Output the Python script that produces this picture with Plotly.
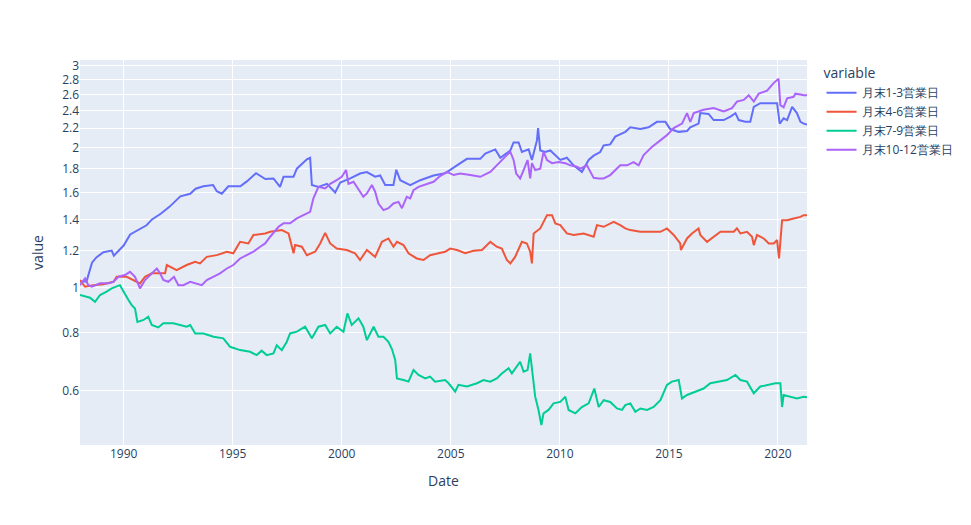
import pandas as pd
import plotly.graph_objects as go

series_names = ["月末1-3営業日", "月末4-6営業日", "月末7-9営業日", "月末10-12営業日"]

blue_t = [1988.0, 1988.3, 1988.55, 1988.75, 1989.07, 1989.45, 1989.55, 1990.0, 1990.3, 1990.7,
          1991.05, 1991.3, 1991.7, 1992.1, 1992.6, 1993.05, 1993.3, 1993.65, 1994.1, 1994.27,
          1994.5, 1994.8, 1995.35, 1995.65, 1996.07, 1996.5, 1996.87, 1997.17, 1997.33, 1997.79,
          1997.94, 1998.4, 1998.55, 1998.63, 1998.93, 1999.32, 1999.7, 1999.93, 2000.39, 2000.84,
          2001.15, 2001.53, 2001.76, 2001.99, 2002.37, 2002.5, 2002.68, 2003.14, 2003.6, 2004.21,
          2004.74, 2005.28, 2005.74, 2006.35, 2006.58, 2007.04, 2007.27, 2007.73, 2007.88, 2008.11,
          2008.26, 2008.57, 2008.72, 2008.95, 2009.0, 2009.1, 2009.33, 2009.56, 2009.79, 2010.02,
          2010.32, 2010.63, 2011.01, 2011.32, 2011.55, 2011.85, 2012.01, 2012.31, 2012.54, 2013.0,
          2013.23, 2013.69, 2014.07, 2014.45, 2014.84, 2015.06, 2015.45, 2015.83, 2015.98, 2016.36,
          2016.44, 2016.82, 2017.05, 2017.51, 2017.82, 2018.05, 2018.2, 2018.5, 2018.73, 2018.89,
          2019.19, 2019.58, 2019.96, 2020.08, 2020.26, 2020.42, 2020.65, 2020.87, 2021.03, 2021.18,
          2021.33]
blue_v = [1.03, 1.03, 1.13, 1.16, 1.19, 1.20, 1.17, 1.23, 1.30, 1.33,
          1.36, 1.40, 1.44, 1.49, 1.57, 1.59, 1.63, 1.65, 1.66, 1.61,
          1.59, 1.65, 1.65, 1.69, 1.76, 1.71, 1.715, 1.645, 1.73, 1.73,
          1.80, 1.885, 1.90, 1.66, 1.645, 1.67, 1.60, 1.68, 1.715, 1.757,
          1.77, 1.73, 1.74, 1.66, 1.66, 1.79, 1.70, 1.66, 1.70, 1.74,
          1.76, 1.83, 1.89, 1.89, 1.94, 1.98, 1.90, 1.97, 2.05, 2.05,
          1.955, 1.98, 1.88, 2.07, 2.20, 1.97, 1.955, 1.97, 1.92, 1.88,
          1.90, 1.83, 1.77, 1.88, 1.92, 1.955, 2.02, 2.03, 2.11, 2.16,
          2.21, 2.19, 2.21, 2.27, 2.27, 2.19, 2.16, 2.17, 2.21, 2.25,
          2.37, 2.36, 2.29, 2.29, 2.33, 2.37, 2.29, 2.27, 2.27, 2.445,
          2.49, 2.49, 2.49, 2.25, 2.31, 2.29, 2.445, 2.37, 2.27, 2.25,
          2.24]

red_t = [1988.0, 1988.23, 1988.61, 1989.07, 1989.53, 1989.68, 1990.14, 1990.45, 1990.75, 1990.98,
         1991.29, 1991.67, 1991.9, 1991.98, 1992.43, 1992.89, 1993.28, 1993.5, 1993.81, 1994.27,
         1994.73, 1995.03, 1995.34, 1995.72, 1995.95, 1996.49, 1996.72, 1997.25, 1997.56, 1997.79,
         1997.86, 1998.17, 1998.4, 1998.78, 1999.01, 1999.24, 1999.47, 1999.77, 2000.23, 2000.61,
         2000.84, 2001.15, 2001.53, 2001.84, 2002.14, 2002.37, 2002.53, 2002.83, 2003.06, 2003.44,
         2003.75, 2004.05, 2004.36, 2004.74, 2004.97, 2005.28, 2005.66, 2006.04, 2006.43, 2006.81,
         2007.11, 2007.34, 2007.57, 2007.73, 2007.95, 2008.26, 2008.49, 2008.64, 2008.72, 2008.8,
         2009.1, 2009.41, 2009.64, 2009.79, 2010.02, 2010.32, 2010.63, 2011.09, 2011.55, 2011.7,
         2012.01, 2012.47, 2012.77, 2013.0, 2013.23, 2013.69, 2014.15, 2014.61, 2014.91, 2015.22,
         2015.52, 2015.55, 2015.83, 2016.06, 2016.36, 2016.44, 2016.75, 2017.05, 2017.36, 2017.97,
         2018.12, 2018.28, 2018.58, 2018.81, 2018.89, 2019.04, 2019.35, 2019.58, 2019.81, 2019.96,
         2020.05, 2020.19, 2020.42, 2020.72, 2021.03, 2021.18, 2021.33]
red_v = [1.037, 1.003, 1.011, 1.016, 1.028, 1.054, 1.054, 1.037, 1.02, 1.054,
         1.072, 1.072, 1.072, 1.117, 1.089, 1.117, 1.135, 1.126, 1.163, 1.173,
         1.193, 1.184, 1.253, 1.243, 1.296, 1.306, 1.317, 1.328, 1.306, 1.184,
         1.233, 1.223, 1.173, 1.193, 1.243, 1.31, 1.243, 1.212, 1.203, 1.184,
         1.145, 1.203, 1.163, 1.253, 1.274, 1.223, 1.253, 1.233, 1.184, 1.154,
         1.145, 1.173, 1.184, 1.193, 1.212, 1.203, 1.184, 1.199, 1.203, 1.253,
         1.223, 1.212, 1.145, 1.126, 1.163, 1.253, 1.243, 1.193, 1.126, 1.306,
         1.339, 1.43, 1.43, 1.373, 1.361, 1.306, 1.296, 1.306, 1.285, 1.361,
         1.35, 1.384, 1.361, 1.339, 1.328, 1.317, 1.317, 1.317, 1.339, 1.296,
         1.243, 1.203, 1.274, 1.306, 1.339, 1.296, 1.253, 1.285, 1.317, 1.317,
         1.339, 1.306, 1.317, 1.285, 1.233, 1.296, 1.274, 1.243, 1.243, 1.264,
         1.154, 1.395, 1.395, 1.407, 1.418, 1.43, 1.43]

green_t = [1988.0, 1988.31, 1988.46, 1988.69, 1988.92, 1989.22, 1989.45, 1989.83, 1989.99, 1990.22,
           1990.37, 1990.52, 1990.63, 1990.91, 1991.13, 1991.29, 1991.59, 1991.82, 1992.28, 1992.59,
           1992.89, 1993.05, 1993.28, 1993.66, 1994.12, 1994.57, 1994.88, 1995.34, 1995.8, 1996.1,
           1996.33, 1996.56, 1996.87, 1997.02, 1997.25, 1997.48, 1997.63, 1997.94, 1998.32, 1998.63,
           1998.93, 1999.24, 1999.47, 1999.77, 2000.08, 2000.26, 2000.46, 2000.77, 2000.99, 2001.15,
           2001.46, 2001.68, 2001.91, 2002.14, 2002.3, 2002.45, 2002.53, 2002.83, 2003.06, 2003.29,
           2003.52, 2003.83, 2004.05, 2004.28, 2004.74, 2004.9, 2005.2, 2005.35, 2005.74, 2006.2,
           2006.5, 2006.81, 2007.11, 2007.34, 2007.65, 2007.8, 2008.18, 2008.34, 2008.52, 2008.64,
           2008.72, 2008.87, 2009.02, 2009.15, 2009.25, 2009.48, 2009.71, 2010.02, 2010.25, 2010.4,
           2010.71, 2011.01, 2011.32, 2011.58, 2011.78, 2012.01, 2012.31, 2012.62, 2012.85, 2013.0,
           2013.23, 2013.46, 2013.69, 2014.0, 2014.3, 2014.61, 2014.91, 2015.14, 2015.45, 2015.6,
           2015.83, 2016.21, 2016.59, 2016.9, 2017.36, 2017.66, 2018.05, 2018.28, 2018.58, 2018.89,
           2019.19, 2019.5, 2019.88, 2020.11, 2020.19, 2020.26, 2020.57, 2020.87, 2021.18, 2021.33]
green_v = [0.963, 0.955, 0.95, 0.931, 0.963, 0.979, 0.995, 1.011, 0.979, 0.939,
           0.916, 0.901, 0.843, 0.851, 0.865, 0.83, 0.82, 0.837, 0.837, 0.83,
           0.823, 0.83, 0.796, 0.796, 0.783, 0.777, 0.745, 0.733, 0.727, 0.715,
           0.731, 0.715, 0.721, 0.751, 0.733, 0.764, 0.796, 0.803, 0.823, 0.777,
           0.823, 0.83, 0.796, 0.823, 0.803, 0.879, 0.83, 0.858, 0.823, 0.77,
           0.823, 0.783, 0.783, 0.764, 0.737, 0.698, 0.637, 0.632, 0.627, 0.664,
           0.648, 0.637, 0.643, 0.627, 0.632, 0.622, 0.597, 0.617, 0.612, 0.622,
           0.632, 0.627, 0.637, 0.653, 0.67, 0.653, 0.692, 0.659, 0.664, 0.721,
           0.664, 0.582, 0.545, 0.506, 0.536, 0.545, 0.563, 0.567, 0.582, 0.545,
           0.536, 0.553, 0.563, 0.606, 0.553, 0.572, 0.567, 0.549, 0.545, 0.558,
           0.563, 0.54, 0.549, 0.545, 0.553, 0.572, 0.617, 0.627, 0.632, 0.577,
           0.587, 0.597, 0.606, 0.622, 0.627, 0.632, 0.648, 0.632, 0.627, 0.592,
           0.612, 0.617, 0.622, 0.622, 0.553, 0.587, 0.582, 0.577, 0.582, 0.58]

purple_t = [1988.0, 1988.23, 1988.38, 1988.54, 1988.92, 1989.3, 1989.53, 1989.76, 1990.06, 1990.29,
            1990.52, 1990.75, 1990.98, 1991.29, 1991.52, 1991.67, 1991.82, 1992.05, 1992.31, 1992.51,
            1992.74, 1993.05, 1993.35, 1993.58, 1993.81, 1994.12, 1994.42, 1994.73, 1995.03, 1995.34,
            1995.65, 1995.95, 1996.26, 1996.49, 1996.72, 1997.1, 1997.33, 1997.63, 1997.94, 1998.24,
            1998.55, 1998.7, 1998.93, 1999.24, 1999.47, 1999.77, 2000.0, 2000.2, 2000.31, 2000.54,
            2000.84, 2000.99, 2001.15, 2001.38, 2001.53, 2001.68, 2001.91, 2002.14, 2002.37, 2002.6,
            2002.76, 2002.98, 2003.14, 2003.29, 2003.52, 2003.9, 2004.21, 2004.51, 2004.82, 2005.13,
            2005.43, 2005.89, 2006.35, 2006.81, 2007.19, 2007.57, 2007.73, 2007.88, 2008.0, 2008.18,
            2008.34, 2008.52, 2008.64, 2008.72, 2008.87, 2009.1, 2009.25, 2009.41, 2009.64, 2009.94,
            2010.25, 2010.48, 2010.78, 2010.94, 2011.24, 2011.55, 2011.78, 2012.01, 2012.31, 2012.54,
            2012.77, 2013.08, 2013.38, 2013.61, 2013.84, 2014.22, 2014.61, 2014.91, 2015.22, 2015.6,
            2015.83, 2015.98, 2016.14, 2016.59, 2017.05, 2017.51, 2017.89, 2018.12, 2018.43, 2018.66,
            2018.89, 2019.12, 2019.5, 2019.8, 2020.03, 2020.11, 2020.26, 2020.42, 2020.72, 2020.8,
            2021.03, 2021.18, 2021.33]
purple_v = [1.011, 1.045, 1.011, 1.003, 1.02, 1.02, 1.028, 1.054, 1.063, 1.08,
            1.054, 0.995, 1.037, 1.072, 1.098, 1.072, 1.037, 1.028, 1.054, 1.011,
            1.011, 1.028, 1.02, 1.011, 1.037, 1.054, 1.072, 1.098, 1.117, 1.154,
            1.173, 1.193, 1.223, 1.243, 1.285, 1.35, 1.373, 1.373, 1.407, 1.43,
            1.454, 1.554, 1.645, 1.632, 1.67, 1.701, 1.729, 1.788, 1.67, 1.687,
            1.606, 1.566, 1.592, 1.66, 1.606, 1.515, 1.466, 1.48, 1.515, 1.527,
            1.48, 1.566, 1.554, 1.619, 1.645, 1.67, 1.687, 1.735, 1.772, 1.744,
            1.757, 1.744, 1.729, 1.772, 1.85, 1.925, 1.956, 1.879, 1.757, 1.715,
            1.788, 1.879, 1.715, 1.85, 1.788, 1.80, 1.956, 1.879, 1.85, 1.86,
            1.85, 1.83, 1.817, 1.80, 1.83, 1.72, 1.715, 1.715, 1.744, 1.788,
            1.83, 1.83, 1.86, 1.83, 1.925, 2.005, 2.07, 2.125, 2.20, 2.25,
            2.37, 2.27, 2.37, 2.41, 2.43, 2.39, 2.43, 2.51, 2.53, 2.59,
            2.51, 2.61, 2.65, 2.75, 2.81, 2.466, 2.44, 2.55, 2.57, 2.61,
            2.6, 2.59, 2.59]

colors = ["#636efa", "#EF553B", "#00cc96", "#ab63fa"]


def to_dates(years):
    out = []
    for y in years:
        yr = int(y)
        out.append(pd.Timestamp(yr, 1, 1) + pd.Timedelta(days=(y - yr) * 365.25))
    return out


data = [(blue_t, blue_v), (red_t, red_v), (green_t, green_v), (purple_t, purple_v)]
for t, v in data:
    assert len(t) == len(v), (len(t), len(v))

fig = go.Figure()
for name, color, (t, v) in zip(series_names, colors, data):
    fig.add_trace(go.Scatter(x=to_dates(t), y=v, mode="lines", name=name,
                             line=dict(color=color, width=2)))

fig.update_layout(
    template="plotly",
    width=971, height=525,
    margin=dict(t=60),
    legend=dict(title=dict(text="variable"), tracegroupgap=0),
    xaxis=dict(title=dict(text="Date")),
    yaxis=dict(title=dict(text="value"), type="log", range=[-0.339, 0.489]),
)
fig.write_html("out.html",
               config={"displayModeBar": False},
               post_script="document.body.style.margin='0';document.body.style.overflow='hidden';")
